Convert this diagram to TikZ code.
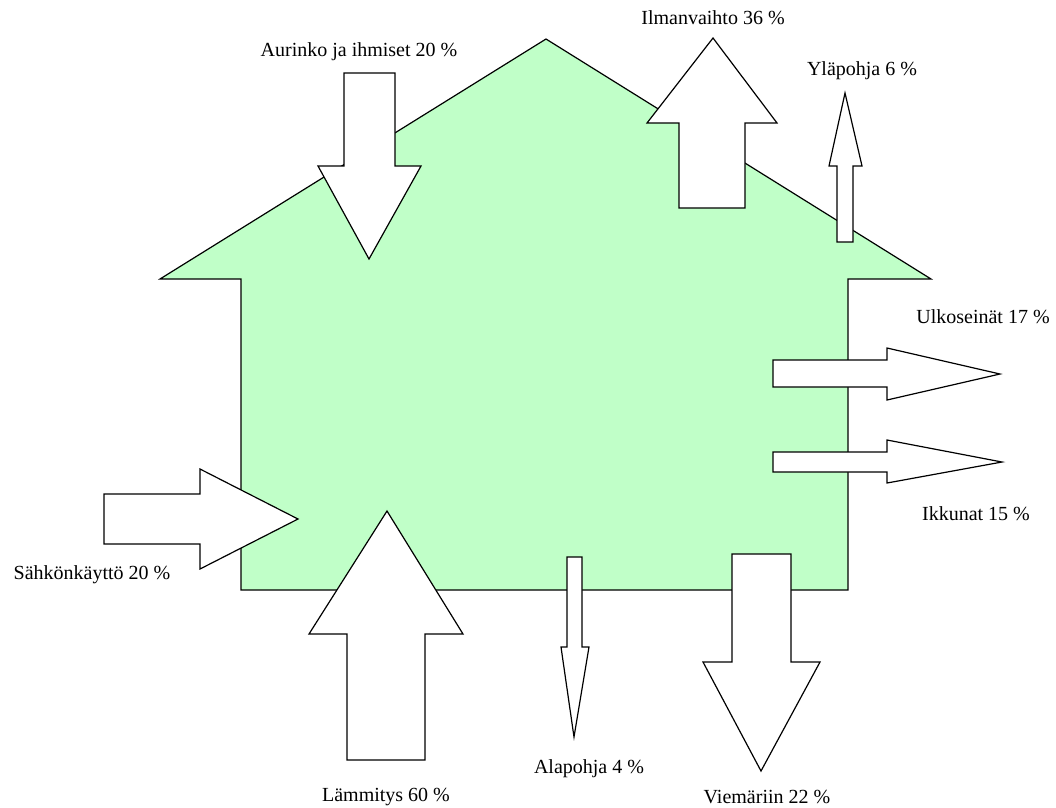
\documentclass[tikz,border=0pt]{standalone}
\usepackage{fontspec}
\setmainfont{Liberation Serif}
\definecolor{housegreen}{RGB}{192,255,200}
\begin{document}
\begin{tikzpicture}[x=1pt,y=-1pt,
  house/.style={draw=black, fill=housegreen, line width=1.2pt, line join=miter},
  flow/.style={draw=black, fill=white, line width=1.2pt, line join=miter},
  lbl/.style={inner sep=0pt, font=\fontsize{20}{24}\selectfont}]
\useasboundingbox (0,0) rectangle (1056,807);
% house
\draw[house] (160,279) -- (546,39) -- (931,279) -- (848,279) -- (848,590) -- (241,590) -- (241,279) -- cycle;
% Aurinko ja ihmiset (down)
\draw[flow] (344,73) -- (395,73) -- (395,166) -- (421,166) -- (369,259) -- (318,166) -- (344,166) -- cycle;
% Ilmanvaihto (up)
\draw[flow] (679,208) -- (679,123) -- (647,123) -- (713,38) -- (777,123) -- (745,123) -- (745,208) -- cycle;
% Yläpohja (up)
\draw[flow] (837,242) -- (837,166) -- (829,166) -- (845,93) -- (862,166) -- (853,166) -- (853,242) -- cycle;
% Ulkoseinät (right)
\draw[flow] (773,360) -- (887,360) -- (887,348) -- (1000,374) -- (887,400) -- (887,387) -- (773,387) -- cycle;
% Ikkunat (right)
\draw[flow] (773,452) -- (887,452) -- (887,440) -- (1002,462) -- (887,483) -- (887,472) -- (773,472) -- cycle;
% Sähkönkäyttö (right, into house)
\draw[flow] (104,494) -- (200,494) -- (200,469) -- (298,519) -- (200,569) -- (200,544) -- (104,544) -- cycle;
% Lämmitys (up, into house)
\draw[flow] (347,760) -- (347,634) -- (309,634) -- (387,511) -- (463,634) -- (425,634) -- (425,760) -- cycle;
% Alapohja (down)
\draw[flow] (567,557) -- (582,557) -- (582,647) -- (589,647) -- (574,737) -- (561,647) -- (567,647) -- cycle;
% Viemäriin (down)
\draw[flow] (732,554) -- (791,554) -- (791,662) -- (820,662) -- (761,771) -- (703,662) -- (732,662) -- cycle;
% labels
\node[lbl] (aurinko) at (359,52) {Aurinko ja ihmiset 20 \%};
\node[lbl] (ilma) at (713,18) {Ilmanvaihto 36 \%};
\node[lbl] (yla) at (862,71) {Yläpohja 6 \%};
\node[lbl] (ulko) at (983,317) {Ulkoseinät 17 \%};
\node[lbl] (ikkuna) at (976,514) {Ikkunat 15 \%};
\node[lbl] (sahko) at (92,575) {Sähkönkäyttö 20 \%};
\node[lbl] (lammitys) at (386,797) {Lämmitys 60 \%};
\node[lbl] (ala) at (589,769) {Alapohja 4 \%};
\node[lbl] (viemari) at (767,797) {Viemäriin 22 \%};
\end{tikzpicture}
\end{document}
